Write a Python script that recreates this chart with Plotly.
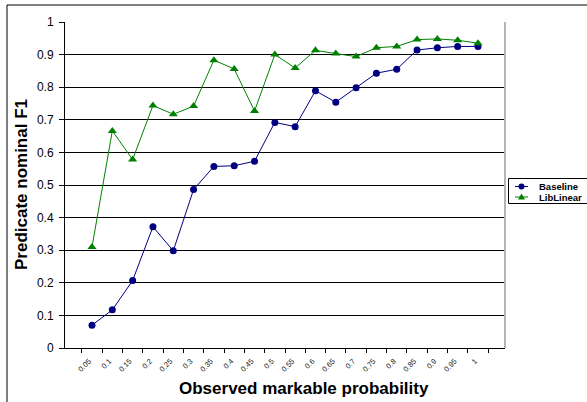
import plotly.graph_objects as go

categories = ["0.05", "0.1", "0.15", "0.2", "0.25", "0.3", "0.35", "0.4", "0.45", "0.5",
              "0.55", "0.6", "0.65", "0.7", "0.75", "0.8", "0.85", "0.9", "0.95", "1"]
baseline = [0.070, 0.117, 0.207, 0.372, 0.298, 0.486, 0.557, 0.559, 0.573, 0.692,
            0.679, 0.789, 0.754, 0.798, 0.843, 0.855, 0.914, 0.921, 0.925, 0.925]
liblinear = [0.310, 0.666, 0.578, 0.744, 0.717, 0.742, 0.883, 0.856, 0.727, 0.900,
             0.859, 0.913, 0.903, 0.894, 0.921, 0.925, 0.946, 0.948, 0.944, 0.935]
series_names = ["Baseline", "LibLinear"]
x_title = "Observed markable probability"
y_title = "Predicate nominal F1"

W, H = 587, 402
L, R, T, B = 65, 82, 22, 54
PW, PH = W - L - R, H - T - B
FONT = "Liberation Sans, Arial, sans-serif"
NAVY = "#000080"
GREEN = "#008000"


def px(x):
    return (x - L) / PW


def py(y):
    return (H - B - y) / PH


fig = go.Figure()
fig.add_trace(go.Scatter(x=categories, y=baseline, mode="lines+markers", name=series_names[0],
                         line=dict(color=NAVY, width=1),
                         marker=dict(symbol="circle", size=7, color=NAVY),
                         showlegend=False))
fig.add_trace(go.Scatter(x=categories, y=liblinear, mode="lines+markers", name=series_names[1],
                         line=dict(color=GREEN, width=1),
                         marker=dict(symbol="triangle-up", size=8, color=GREEN),
                         showlegend=False))

shapes = []
# outer chart border (extends beyond the visible area on right/bottom)
shapes.append(dict(type="rect", xref="paper", yref="paper",
                   x0=px(7), y0=py(5), x1=px(640), y1=py(440),
                   line=dict(color="black", width=1), layer="below"))
# plot area right border (gray)
shapes.append(dict(type="line", xref="paper", yref="paper",
                   x0=px(505), x1=px(505), y0=0, y1=1,
                   line=dict(color="#b4b4b4", width=2)))
# legend box
shapes.append(dict(type="rect", xref="paper", yref="paper",
                   x0=px(508.5), y0=py(178.5), x1=px(640), y1=py(203.5),
                   line=dict(color="black", width=1), fillcolor="white"))
legend_rows = [(186.5, NAVY, "circle"), (197.0, GREEN, "triangle")]
annotations = []
for (yy, col, sym), name in zip(legend_rows, series_names):
    shapes.append(dict(type="line", xref="paper", yref="paper",
                       x0=px(515), x1=px(528), y0=py(yy), y1=py(yy),
                       line=dict(color=col, width=1)))
    if sym == "circle":
        shapes.append(dict(type="circle", xref="paper", yref="paper",
                           x0=px(518.5), x1=px(524.5), y0=py(yy - 3), y1=py(yy + 3),
                           line=dict(color=col, width=0), fillcolor=col))
    else:
        x0, x1, xm = px(518), px(525), px(521.5)
        y_top, y_bot = py(yy - 3.5), py(yy + 2.5)
        shapes.append(dict(type="path", xref="paper", yref="paper",
                           path=f"M{x0},{y_bot} L{x1},{y_bot} L{xm},{y_top} Z",
                           line=dict(color=col, width=0), fillcolor=col))
    annotations.append(dict(xref="paper", yref="paper", x=px(536.5), y=py(yy),
                            xanchor="left", yanchor="middle", showarrow=False,
                            text=f"<b>{name}</b>",
                            font=dict(family=FONT, size=9.5, color="black")))

annotations.append(dict(xref="paper", yref="paper", x=px(304), y=py(388),
                        xanchor="center", yanchor="middle", showarrow=False,
                        text=f"<b>{x_title}</b>",
                        font=dict(family=FONT, size=17, color="black")))
annotations.append(dict(xref="paper", yref="paper", x=px(21), y=py(185),
                        xanchor="center", yanchor="middle", showarrow=False,
                        textangle=-90,
                        text=f"<b>{y_title}</b>",
                        font=dict(family=FONT, size=17, color="black")))

fig.update_layout(
    width=W, height=H,
    margin=dict(l=L, r=R, t=T, b=B, pad=0),
    paper_bgcolor="white", plot_bgcolor="white",
    font=dict(family=FONT, color="black"),
    shapes=shapes, annotations=annotations,
    showlegend=False,
)
fig.update_xaxes(type="category", tickson="boundaries", ticks="outside", ticklen=4,
                 tickcolor="black", tickangle=-45,
                 tickfont=dict(family=FONT, size=7.5, color="#222222"),
                 ticklabelstandoff=5, ticklabelshift=-3,
                 showline=True, linecolor="black", linewidth=1,
                 showgrid=False, zeroline=False, fixedrange=True, automargin=False)
fig.update_yaxes(range=[0, 1], dtick=0.1, tick0=0, ticks="outside", ticklen=5,
                 tickcolor="black",
                 tickfont=dict(family=FONT, size=12, color="black"),
                 ticklabelstandoff=3,
                 showline=True, linecolor="black", linewidth=1,
                 showgrid=True, gridcolor="black", gridwidth=1,
                 zeroline=False, fixedrange=True, automargin=False)

fig.write_html("out.html", config={"displayModeBar": False},
               post_script="document.body.style.margin='0';document.body.style.overflow='hidden';")
